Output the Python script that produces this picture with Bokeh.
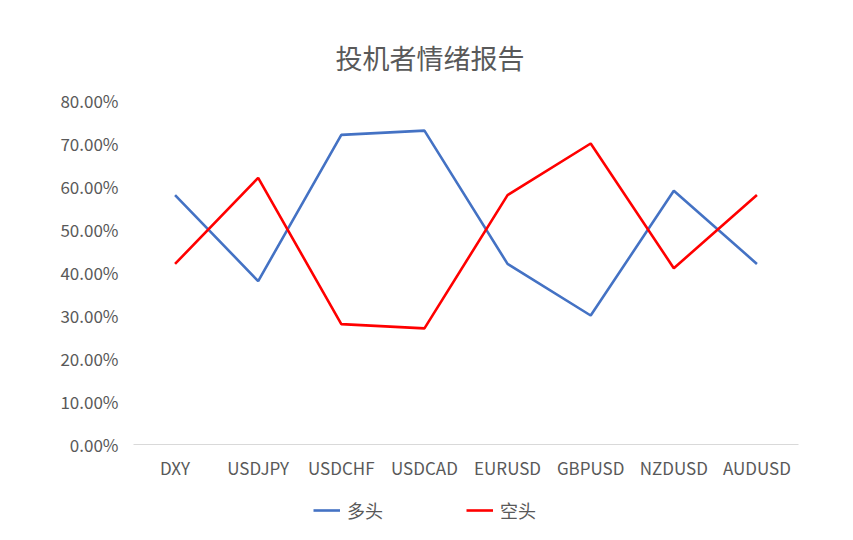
from bokeh.plotting import figure
from bokeh.layouts import column
from bokeh.models import (FactorRange, Range1d, FixedTicker, PrintfTickFormatter,
                          Legend, LegendItem, Title)
from bokeh.embed import file_html
from bokeh.resources import INLINE

title_text = "投机者情绪报告"
categories = ["DXY", "USDJPY", "USDCHF", "USDCAD", "EURUSD", "GBPUSD", "NZDUSD", "AUDUSD"]
long_name = "多头"
short_name = "空头"
long_vals = [58, 38, 72, 73, 42, 30, 59, 42]
short_vals = [42, 62, 28, 27, 58, 70, 41, 58]
y_ticks = [0, 10, 20, 30, 40, 50, 60, 70, 80]

FONT = "Noto Sans CJK SC"
GRAY = "#595959"
BLUE = "#4472C4"
RED = "#FF0000"

p = figure(width=845, height=490, output_backend="svg", toolbar_location=None,
           x_range=FactorRange(factors=categories), y_range=Range1d(0, 80),
           min_border_left=133, min_border_right=47, min_border_top=100, min_border_bottom=46)
p.outline_line_color = None
p.xgrid.grid_line_color = None
p.ygrid.grid_line_color = None
p.border_fill_color = "white"

p.line(categories, long_vals, line_color=BLUE, line_width=2.6)
p.line(categories, short_vals, line_color=RED, line_width=2.6)

ya = p.yaxis[0]
ya.ticker = FixedTicker(ticks=y_ticks)
ya.formatter = PrintfTickFormatter(format="%.2f%%")
ya.axis_line_color = None
ya.major_tick_line_color = None
ya.minor_tick_line_color = None
ya.major_tick_out = 0
ya.major_tick_in = 0
ya.major_label_text_font = FONT
ya.major_label_text_font_size = "17px"
ya.major_label_text_color = GRAY
ya.major_label_standoff = 15

xa = p.xaxis[0]
xa.axis_line_color = "#D9D9D9"
xa.axis_line_width = 1
xa.major_tick_line_color = None
xa.minor_tick_line_color = None
xa.major_tick_out = 0
xa.major_tick_in = 0
xa.major_label_text_font = FONT
xa.major_label_text_font_size = "17px"
xa.major_label_text_color = GRAY
xa.major_label_standoff = 10

p.add_layout(Title(text=title_text, align="left", offset=202, standoff=47,
                   text_font=FONT, text_font_size="27px", text_font_style="normal",
                   text_color=GRAY), "above")

# legend strip below the chart (proxy lines lie outside its visible range)
p2 = figure(width=845, height=42, output_backend="svg", toolbar_location=None,
            x_range=Range1d(0, 1), y_range=Range1d(0, 1),
            x_axis_type=None, y_axis_type=None,
            min_border_left=0, min_border_right=0, min_border_top=0, min_border_bottom=0)
p2.outline_line_color = None
p2.xgrid.grid_line_color = None
p2.ygrid.grid_line_color = None
p2.border_fill_color = "white"
r1 = p2.line([0, 1], [-5, -5], line_color=BLUE, line_width=2.6)
r2 = p2.line([0, 1], [-5, -5], line_color=RED, line_width=2.6)

legend = Legend(items=[LegendItem(label=long_name, renderers=[r1]),
                       LegendItem(label=short_name, renderers=[r2])],
                orientation="horizontal", location=(180, 9),
                glyph_width=27, glyph_height=20, label_height=20, label_standoff=7,
                spacing=83, padding=0, margin=0, border_line_color=None,
                background_fill_alpha=0,
                label_text_font=FONT, label_text_font_size="18px", label_text_color=GRAY)
p2.add_layout(legend, "center")

layout = column(p, p2, spacing=0)
open("out.html", "w").write(file_html(layout, INLINE))
